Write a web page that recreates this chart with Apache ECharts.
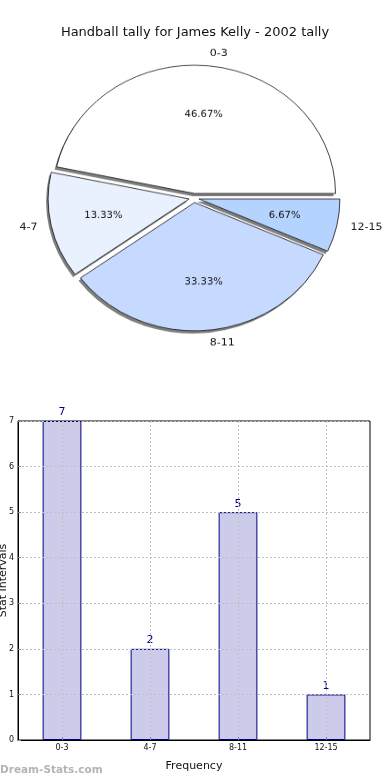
<!DOCTYPE html>
<html>
<head>
<meta charset="utf-8">
<script src="https://cdn.jsdelivr.net/npm/echarts@6/dist/echarts.min.js"></script>
<style>
  html, body { margin: 0; padding: 0; background: #fff; }
  #wrap { position: relative; width: 390px; height: 780px; overflow: hidden; }
  #main { position: absolute; left: 0; top: 0; width: 390px; height: 780px; }
  #pie { position: absolute; left: 0; top: 0; width: 390px; height: 396px;
         transform: scaleY(0.91); transform-origin: 194px 198px; }
</style>
</head>
<body>
<div id="wrap">
  <div id="main"></div>
  <div id="pie"></div>
</div>
<script>
const titleText = 'Handball tally for James Kelly - 2002 tally';
const pieLabels = ['0-3', '4-7', '8-11', '12-15'];
const pieValues = [7, 2, 5, 1];
const pieColors = ['#ffffff', '#e9f1ff', '#c6d9ff', '#b4d4ff'];
const barCategories = ['0-3', '4-7', '8-11', '12-15'];
const barValues = [7, 2, 5, 1];
const yTicks = [0, 1, 2, 3, 4, 5, 6, 7];
const xAxisName = 'Frequency';
const yAxisName = 'Stat Intervals';
const watermark = 'Dream-Stats.com';

const FONT = '"DejaVu Sans", sans-serif';
const GRIDLINE = { color: '#c0c0c0', type: [2, 2], width: 1 };

// helper axis for vertical gridlines through category centres
const halfSteps = [];
barCategories.forEach(c => { halfSteps.push(''); halfSteps.push(c); });
halfSteps.push('');

const main = echarts.init(document.getElementById('main'), null, { renderer: 'canvas' });
main.setOption({
  animation: false,
  backgroundColor: 'transparent',
  title: {
    text: titleText, left: 'center', top: 21,
    textStyle: { fontFamily: FONT, fontSize: 13, fontWeight: 'normal', color: '#111' }
  },
  graphic: [{
    type: 'text', left: 0, top: 765,
    style: { text: watermark, font: 'bold 10.5px "DejaVu Sans", sans-serif', fill: '#b4b4b4' }
  }],
  grid: { left: 18, right: 20, top: 421, bottom: 40, containLabel: false, outerBoundsMode: 'none',
    show: true, borderColor: '#000', borderWidth: 1, backgroundColor: 'transparent' },
  xAxis: [{
    type: 'category', data: barCategories, z: 10,
    name: xAxisName, nameLocation: 'middle', nameGap: 21, nameMoveOverlap: false,
    nameTextStyle: { fontFamily: FONT, fontSize: 11, color: '#111' },
    axisLine: { lineStyle: { color: '#000', width: 1 } },
    axisTick: { show: true, inside: true, alignWithLabel: true, length: 3, lineStyle: { color: '#888' } },
    axisLabel: { fontFamily: FONT, fontSize: 8, color: '#111', margin: 4 },
    splitLine: { show: false }
  }, {
    type: 'category', data: halfSteps, boundaryGap: false, position: 'bottom', z: 10,
    axisLine: { show: false }, axisTick: { show: false }, axisLabel: { show: false },
    splitLine: { show: true, interval: (i) => i % 2 === 1, lineStyle: GRIDLINE }
  }],
  yAxis: {
    type: 'value', min: 0, max: yTicks[yTicks.length - 1], interval: 1, z: 10,
    name: yAxisName, nameLocation: 'middle', nameGap: 9, nameRotate: 90, nameMoveOverlap: false,
    nameTextStyle: { fontFamily: FONT, fontSize: 11, color: '#111' },
    axisLine: { show: true, lineStyle: { color: '#000', width: 1 } },
    axisTick: { show: true, inside: true, length: 3, lineStyle: { color: '#888' } },
    axisLabel: { fontFamily: FONT, fontSize: 8, color: '#111', margin: 4,
      formatter: v => yTicks.includes(v) ? String(v) : '' },
    splitLine: { show: true, lineStyle: GRIDLINE }
  },
  series: [{
    type: 'bar', data: barValues, barWidth: '44%', z: 2, xAxisIndex: 0,
    itemStyle: { color: '#ccccea', borderColor: '#000088', borderWidth: 1 },
    label: { show: true, position: 'top', distance: 3, fontFamily: FONT, fontSize: 11, color: '#000088' },
    emphasis: { disabled: true }
  }]
});

const pie = echarts.init(document.getElementById('pie'), null, { renderer: 'canvas' });
const R = 141;
const common = {
  type: 'pie', center: [194, 198], startAngle: 0, clockwise: false,
  selectedMode: 'multiple', selectedOffset: 5, avoidLabelOverlap: false,
  emphasis: { disabled: true }
};
const vertical = { '0-3': true, '8-11': true };
pie.setOption({
  animation: false,
  backgroundColor: 'transparent',
  series: [
    Object.assign({}, common, {
      radius: [0, R], z: 2,
      data: pieLabels.map((n, i) => ({
        name: n, value: pieValues[i], selected: true,
        itemStyle: { color: pieColors[i] },
        labelLine: { show: false, length: vertical[n] ? 14 : 9, length2: 0 }
      })),
      itemStyle: { borderWidth: 0,
        shadowColor: 'rgba(0,0,0,0.5)', shadowBlur: 0, shadowOffsetX: -2, shadowOffsetY: 3 },
      label: { show: true, position: 'outside', formatter: '{b}', fontFamily: FONT, fontSize: 11, color: '#111' },
      labelLine: { show: false, length: 9, length2: 0 },
      labelLayout: (p) => vertical[pieLabels[p.dataIndex]] ? { dx: -6 } : {}
    }),
    Object.assign({}, common, {
      radius: [0, R], z: 3, silent: true,
      data: pieLabels.map((n, i) => ({ name: n, value: pieValues[i], selected: true })),
      itemStyle: { color: 'rgba(0,0,0,0)', borderColor: '#111', borderWidth: 0.8 },
      label: { show: false }, labelLine: { show: false }
    }),
    Object.assign({}, common, {
      radius: [R * 0.2, R], z: 4, silent: true,
      data: pieLabels.map((n, i) => ({ name: n, value: pieValues[i], selected: true })),
      itemStyle: { color: 'rgba(0,0,0,0)', borderWidth: 0 },
      label: { show: true, position: 'inside', formatter: '{d}%', fontFamily: FONT, fontSize: 10, color: '#111' },
      labelLine: { show: false }
    })
  ]
});
</script>
</body>
</html>
